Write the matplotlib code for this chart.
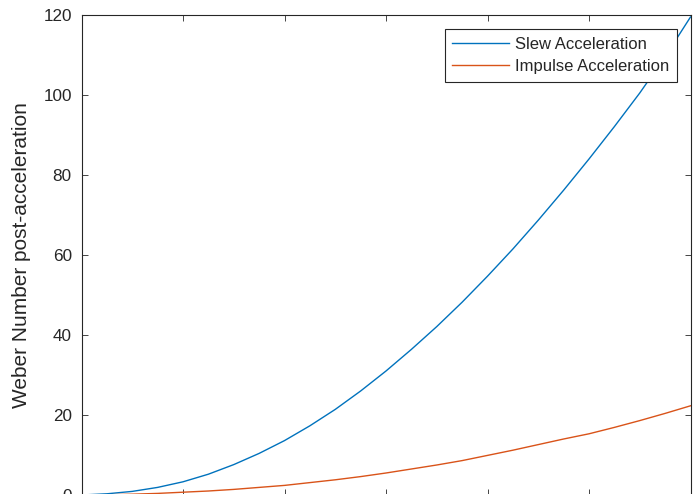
import matplotlib
matplotlib.use("Agg")
import matplotlib.pyplot as plt

# x positions (axis units, tick spacing 1)
x_vals = [0, 0.25, 0.5, 0.75, 1, 1.25, 1.5, 1.75, 2, 2.25, 2.5, 2.75, 3,
          3.25, 3.5, 3.75, 4, 4.25, 4.5, 4.75, 5, 5.25, 5.5, 5.75, 6]
slew_we = [0.0, 0.3, 0.9, 1.9, 3.3, 5.2, 7.6, 10.4, 13.6, 17.3, 21.4, 26.0, 31.0,
           36.4, 42.1, 48.2, 54.7, 61.5, 68.7, 76.2, 84.0, 92.1, 100.5, 109.6, 119.5]
impulse_we = [0.0, 0.05, 0.2, 0.4, 0.7, 1.0, 1.4, 1.9, 2.4, 3.1, 3.8, 4.6, 5.5,
              6.5, 7.5, 8.6, 9.9, 11.2, 12.6, 14.0, 15.3, 16.9, 18.6, 20.4, 22.3]
y_ticks = [0, 20, 40, 60, 80, 100, 120]
x_ticks = [0, 1, 2, 3, 4, 5, 6]
labels = ["Slew Acceleration", "Impulse Acceleration"]

plt.rcParams['font.family'] = ['Liberation Sans', 'DejaVu Sans']

W, H = 696, 494
fig = plt.figure(figsize=(W / 100, H / 100), dpi=100)
fig.patch.set_facecolor('white')

left, right, top, bottom = 81.5, 690.5, 15.0, 495.0
ax = fig.add_axes([left / W, 1 - bottom / H, (right - left) / W, (bottom - top) / H])

ax.plot(x_vals, slew_we, color='#0072BD', lw=1.0, label=labels[0])
ax.plot(x_vals, impulse_we, color='#D95319', lw=1.0, label=labels[1])

ax.set_xlim(0, 6)
ax.set_ylim(0, 120)
ax.set_yticks(y_ticks)
ax.set_xticks(x_ticks)
ax.set_ylabel("Weber Number post-acceleration", fontsize=15, color='#262626', labelpad=9)

edge = '#262626'
for s in ax.spines.values():
    s.set_color(edge)
    s.set_linewidth(0.8)
ax.tick_params(direction='in', length=4.5, width=0.6, colors=edge, labelsize=12.3,
               top=True, right=True, pad=7)
ax.tick_params(axis='x', labelbottom=False)

leg = ax.legend(loc='upper right', bbox_to_anchor=(676.7 / W, 1 - 29.3 / H),
                bbox_transform=fig.transFigure, borderaxespad=0, fontsize=12,
                fancybox=False, framealpha=1, edgecolor=edge, handlelength=3.4,
                handletextpad=0.35, labelspacing=0.45, borderpad=0.45)
leg.get_frame().set_linewidth(0.8)
for t in leg.get_texts():
    t.set_color('#262626')

fig.savefig("out.png", dpi=100, facecolor='white')
